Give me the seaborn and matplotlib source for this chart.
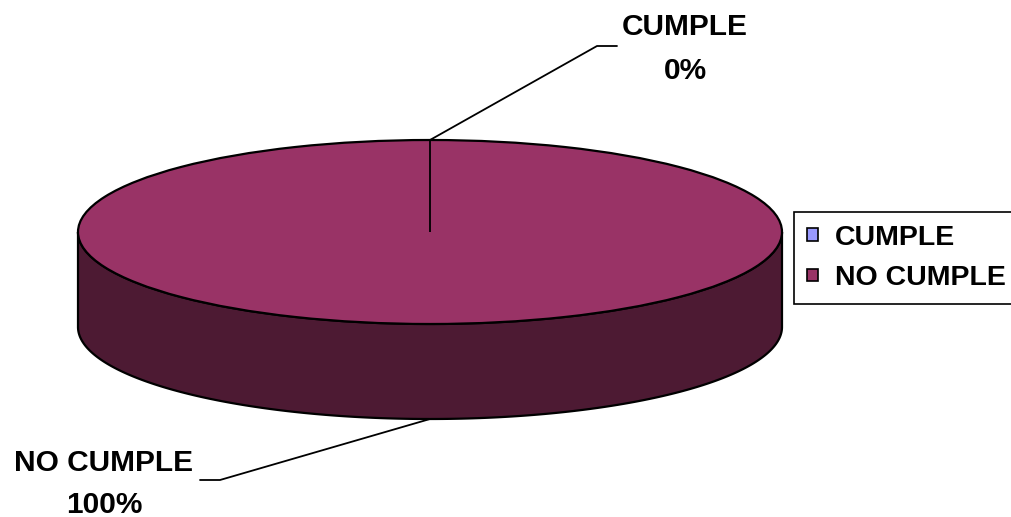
import numpy as np
import matplotlib
matplotlib.use("Agg")
import matplotlib.pyplot as plt
import seaborn as sns
from matplotlib.patches import Polygon, Patch

# Chart data
categories = ["CUMPLE", "NO CUMPLE"]
values = [0, 100]
top_colors = ["#9999FF", "#993366"]
side_colors = ["#4D4D80", "#4D1A33"]

sns.set_theme(style="white")
plt.rcParams["font.family"] = ["Liberation Sans", "DejaVu Sans"]
plt.rcParams["font.weight"] = "bold"
plt.rcParams["text.color"] = "black"
plt.rcParams["legend.labelcolor"] = "black"

W, H = 1011, 517
fig = plt.figure(figsize=(W / 100, H / 100), dpi=100)
fig.patch.set_facecolor("white")
ax = fig.add_axes([0, 0, 1, 1])

# Ellipse geometry of the tilted pie (pixel units), depth of the cylinder wall
cx, cy, rx, ry, depth = 430, 232, 352, 92, 95
d = depth / ry
EDGE_LW = 1.6


def P(x, y):
    """Pixel position (origin top-left) -> unit-pie data coordinates."""
    return ((x - cx) / rx, (cy - y) / ry)


vals = np.asarray(values, float)
frac = vals / vals.sum()
# slices run clockwise from 12 o'clock
bounds = 90 - 360 * np.concatenate([[0], np.cumsum(frac)])
mids = (bounds[:-1] + bounds[1:]) / 2

# Cylinder wall: front-facing part (angles 180..360 deg) of every slice
for i in range(len(vals)):
    lo_w, hi_w = bounds[i + 1], bounds[i]
    for k in range(-2, 3):
        lo = max(lo_w, 180 + 360 * k)
        hi = min(hi_w, 360 + 360 * k)
        if hi - lo <= 1e-9:
            continue
        t = np.radians(np.linspace(lo, hi, 300))
        top = np.column_stack([np.cos(t), np.sin(t)])
        bot = np.column_stack([np.cos(t), np.sin(t) - d])[::-1]
        ax.add_patch(Polygon(np.vstack([top, bot]), closed=True,
                             facecolor=side_colors[i], edgecolor="black",
                             linewidth=EDGE_LW, zorder=1))

# Top face
ax.pie(vals, startangle=90, counterclock=False, colors=top_colors,
       radius=1, center=(0, 0),
       wedgeprops=dict(edgecolor="black", linewidth=EDGE_LW, zorder=2))

# Slice boundaries on the top face
for b in np.unique(np.round(np.mod(bounds, 360), 6)):
    a = np.radians(b)
    ax.plot([0, np.cos(a)], [0, np.sin(a)], color="black",
            linewidth=EDGE_LW - 0.3, zorder=3, solid_capstyle="butt")

ax.set_aspect("auto")
ax.set_xlim(P(0, 0)[0], P(W, 0)[0])
ax.set_ylim(P(0, H)[1], P(0, 0)[1])
ax.axis("off")

# Data labels with leader lines
pct = frac * 100
fs = 21.5


def anchor(angle_deg):
    a = np.radians(angle_deg)
    x, y = np.cos(a), np.sin(a)
    if y < 0:
        y -= d
    return x, y


label_layout = {
    0: dict(elbow=[(597, 46), (617, 46)], text=(685, 27), pct=(685, 71)),
    1: dict(elbow=[(220, 480), (200, 480)], text=(104, 463), pct=(104, 505)),
}
for i, cat in enumerate(categories):
    lay = label_layout[i]
    ax0 = anchor(mids[i])
    pts = [ax0] + [P(*p) for p in lay["elbow"]]
    xs, ys = zip(*pts)
    ax.plot(xs, ys, color="black", linewidth=1.3, zorder=3)
    ax.text(*P(*lay["text"]), cat, ha="center", va="center",
            fontsize=fs, fontweight="bold", color="black")
    ax.text(*P(*lay["pct"]), f"{pct[i]:.0f}%", ha="center", va="center",
            fontsize=fs, fontweight="bold", color="black")

# Legend
handles = [Patch(facecolor=c, edgecolor="black", linewidth=1.2) for c in top_colors]
leg = ax.legend(handles, categories, loc="upper left",
                bbox_to_anchor=(794 / W, 1 - 212 / H),
                bbox_transform=fig.transFigure, frameon=True, fancybox=False,
                framealpha=1, edgecolor="black", borderaxespad=0,
                borderpad=0.45, handlelength=0.38, handleheight=0.3,
                handletextpad=0.6, labelspacing=0.5,
                prop=dict(size=20.5, weight="bold"))
leg.get_frame().set_linewidth(1.2)
for txt in leg.get_texts():
    txt.set_color("black")

fig.savefig("out.png", dpi=100, facecolor="white")
